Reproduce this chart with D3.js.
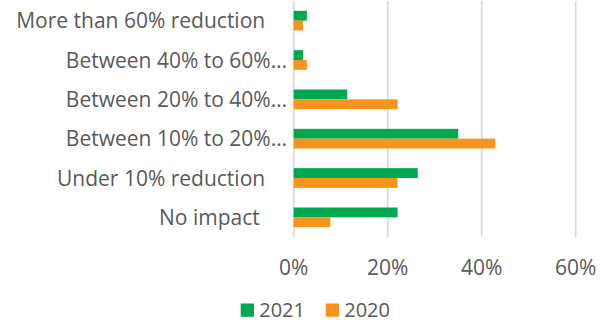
<!DOCTYPE html>
<html><head><meta charset="utf-8">
<script src="https://cdn.jsdelivr.net/npm/d3@7"></script>
<style>
html,body{margin:0;padding:0;background:#fff;}
svg text{font-family:"Open Sans",sans-serif;fill:#595959;white-space:pre;}
</style></head>
<body><svg id="c" width="613" height="322"></svg>
<script>
const categories = ["More than 60% reduction    ","Between 40% to 60%…","Between 20% to 40%…","Between 10% to 20%…","Under 10% reduction    ","No impact     "];
const seriesNames = ["2021","2020"];
const values2021 = [0.028,0.020,0.114,0.350,0.264,0.221];
const values2020 = [0.020,0.028,0.221,0.429,0.221,0.078];
const tickValues = [0,0.2,0.4,0.6];
const colors = ["#00A94F","#F7941D"];

const svg = d3.select("#c");
const x = d3.scaleLinear().domain([0,0.6]).range([293.7,575.7]);
const y = d3.scaleBand().domain(categories).range([1,237]).paddingInner(0.5).paddingOuter(0.25);
const ys = d3.scaleBand().domain(seriesNames).range([0,y.bandwidth()]);
const color = d3.scaleOrdinal().domain(seriesNames).range(colors);

// gridlines
svg.append("g").selectAll("line").data(tickValues).join("line")
  .attr("x1",d=>x(d)).attr("x2",d=>x(d)).attr("y1",1).attr("y2",237)
  .attr("stroke","#D9D9D9").attr("stroke-width",1.7);

const rows = categories.map((c,i)=>({cat:c, vals:[values2021[i],values2020[i]]}));
const g = svg.append("g").selectAll("g").data(rows).join("g")
  .attr("transform",d=>`translate(0,${y(d.cat)})`);
g.selectAll("rect").data(d=>d.vals.map((v,j)=>({s:seriesNames[j],v}))).join("rect")
  .attr("x",x(0)).attr("y",d=>ys(d.s)).attr("width",d=>x(d.v)-x(0)).attr("height",ys.bandwidth())
  .attr("fill",d=>color(d.s));

// category labels
svg.append("g").selectAll("text").data(categories).join("text")
  .attr("x",287).attr("y",d=>y(d)+y.bandwidth()/2).attr("dy","0.36em")
  .attr("text-anchor","end").attr("font-size",21).text(d=>d);

// x axis labels
svg.append("g").selectAll("text").data(tickValues).join("text")
  .attr("x",d=>x(d)).attr("y",275).attr("text-anchor","middle").attr("font-size",21)
  .text(d=>d3.format(".0%")(d));

// legend
const legX = [240.7, 325.7];
const lg = svg.append("g").selectAll("g").data(seriesNames).join("g")
  .attr("transform",(d,i)=>`translate(${legX[i]},0)`);
lg.append("rect").attr("x",0).attr("y",303.5).attr("width",13.3).attr("height",13.3).attr("fill",d=>color(d));
lg.append("text").attr("x",18.5).attr("y",316.5).attr("font-size",20).text(d=>d);
</script></body></html>
